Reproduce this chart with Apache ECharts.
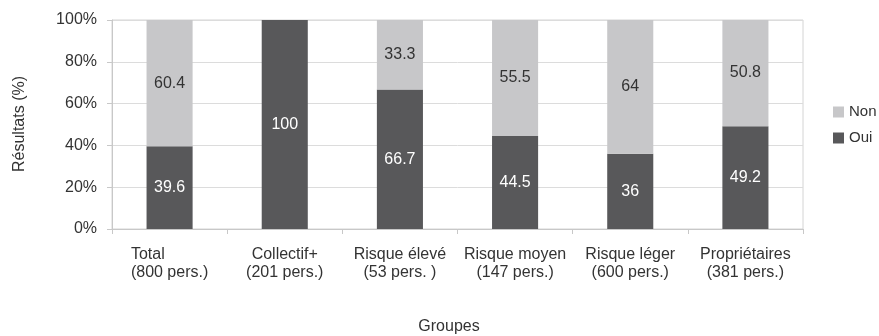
<!DOCTYPE html>
<html>
<head>
<meta charset="utf-8">
<script src="https://cdn.jsdelivr.net/npm/echarts@6/dist/echarts.min.js"></script>
<style>
  html, body { margin: 0; padding: 0; background: #fff; }
  #chart { width: 879px; height: 336px; }
</style>
</head>
<body>
<div id="chart"></div>
<script>
// Groups surveyed, with headcount on the second line
const groupNames = ['Total', 'Collectif+', 'Risque élevé', 'Risque moyen', 'Risque léger', 'Propriétaires'];
const groupCounts = ['(800 pers.)', '(201 pers.)', '(53 pers. )', '(147 pers.)', '(600 pers.)', '(381 pers.)'];

// Share of answers per group (%)
const ouiValues = [39.6, 100, 66.7, 44.5, 36, 49.2];
const nonValues = [60.4, 0, 33.3, 55.5, 64, 50.8];

// Value axis ticks
const yMin = 0, yMax = 100, yStep = 20;

const FONT = 'Liberation Sans, Arial, Helvetica, sans-serif';
const TEXT = '#333333';

const categories = groupNames.map((n, i) => n + '\n' + groupCounts[i]);

const chart = echarts.init(document.getElementById('chart'), null, { renderer: 'canvas' });

chart.setOption({
  animation: false,
  backgroundColor: '#ffffff',
  textStyle: { fontFamily: FONT },
  grid: {
    left: 112, right: 76, top: 20, bottom: 107,
    show: true, borderColor: '#d4d4d4', borderWidth: 1, backgroundColor: 'transparent'
  },
  legend: {
    orient: 'vertical',
    left: 833, top: 104, padding: 0,
    itemWidth: 11, itemHeight: 11, itemGap: 10, itemTextGap: 5,
    icon: 'rect',
    data: ['Non', 'Oui'],
    textStyle: { fontFamily: FONT, fontSize: 15, color: TEXT, lineHeight: 16 }
  },
  xAxis: {
    type: 'category',
    data: categories,
    boundaryGap: true,
    axisLine: { show: true, lineStyle: { color: '#c8c8c8', width: 1 } },
    axisTick: { show: true, interval: 0, length: 5, lineStyle: { color: '#c8c8c8' } },
    axisLabel: {
      interval: 0, margin: 17,
      fontFamily: FONT, fontSize: 16, lineHeight: 18, color: TEXT,
      formatter: function (v, i) {
        if (i === 0) {
          const parts = v.split('\n');
          return '{l|' + parts[0] + '}\n' + parts[1];
        }
        return v;
      },
      rich: { l: { align: 'left', fontFamily: FONT, fontSize: 16, lineHeight: 18, color: TEXT } }
    },
    splitLine: { show: false }
  },
  yAxis: {
    type: 'value',
    min: yMin, max: yMax, interval: yStep,
    axisLine: { show: true, lineStyle: { color: '#c8c8c8', width: 1 } },
    axisTick: { show: true, length: 5, lineStyle: { color: '#c8c8c8' } },
    axisLabel: { margin: 15, fontFamily: FONT, fontSize: 16, color: TEXT, formatter: '{value}%' },
    splitLine: { show: true, lineStyle: { color: '#dcdcdc', width: 1 } }
  },
  series: [
    {
      name: 'Oui', type: 'bar', stack: 'r', barWidth: '40%',
      data: ouiValues,
      itemStyle: { color: '#58585a' },
      label: {
        show: true, position: 'inside', color: '#ffffff',
        fontFamily: FONT, fontSize: 16,
        formatter: p => (p.value > 0 ? String(p.value) : '')
      }
    },
    {
      name: 'Non', type: 'bar', stack: 'r', barWidth: '40%',
      data: nonValues,
      itemStyle: { color: '#c7c7c9' },
      label: {
        show: true, position: 'inside', color: TEXT,
        fontFamily: FONT, fontSize: 16,
        formatter: p => (p.value > 0 ? String(p.value) : '')
      }
    }
  ],
  graphic: [
    {
      type: 'text', x: 20, y: 124, rotation: Math.PI / 2,
      style: { text: 'Résultats (%)', fontFamily: FONT, fontSize: 16, fill: TEXT, align: 'center', verticalAlign: 'middle' }
    },
    {
      type: 'text', x: 449, y: 327,
      style: { text: 'Groupes', fontFamily: FONT, fontSize: 16, fill: TEXT, align: 'center', verticalAlign: 'middle' }
    }
  ]
});
</script>
</body>
</html>
